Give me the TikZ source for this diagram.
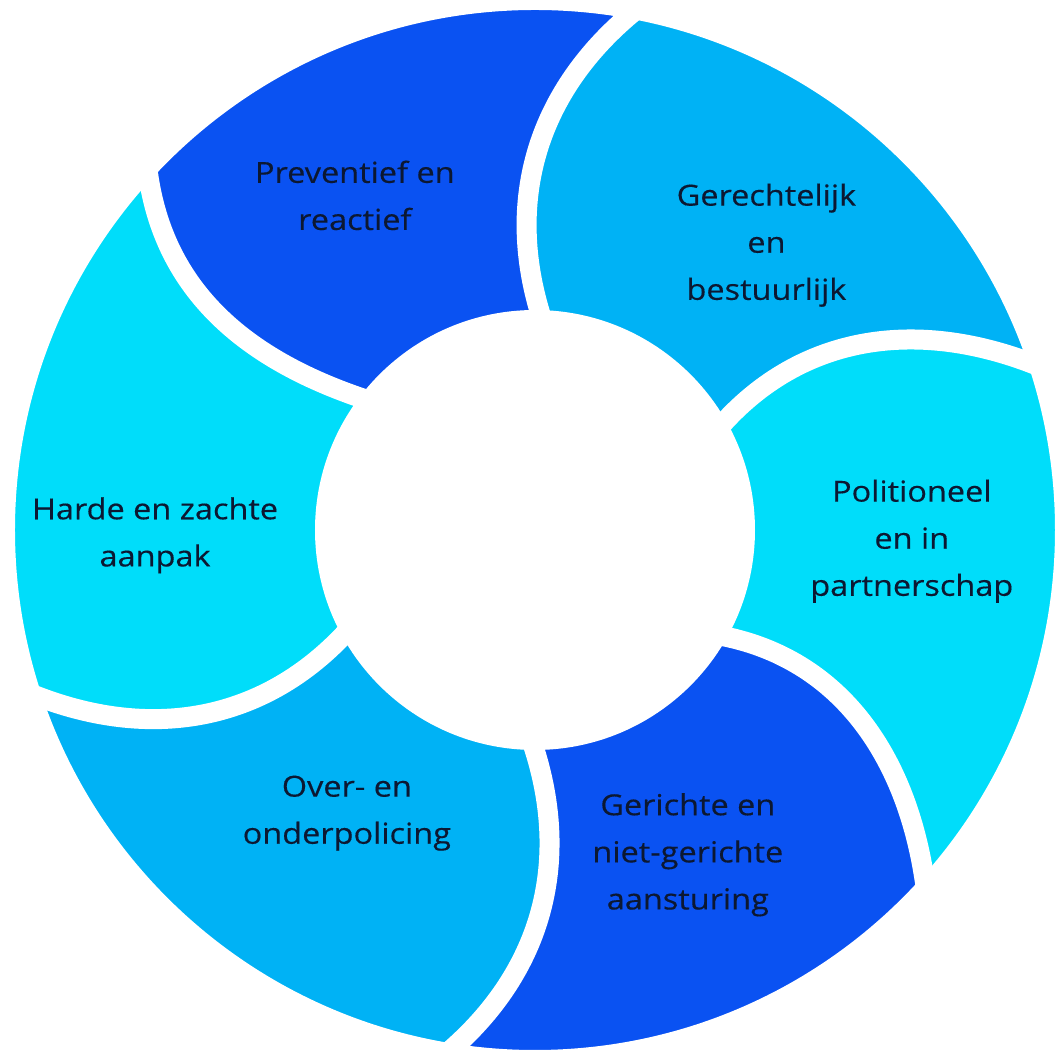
\documentclass[tikz,border=0pt]{standalone}
\usepackage{fontspec}
\setmainfont[FakeStretch=1.12,FakeBold=0.35]{Open Sans}
\definecolor{ringdark}{RGB}{10,82,242}
\definecolor{ringmid}{RGB}{0,178,245}
\definecolor{ringcyan}{RGB}{0,221,250}
\definecolor{labeltext}{RGB}{12,24,50}
\begin{document}
\begin{tikzpicture}[
    gap/.style={draw=white, line width=0.2cm},
    lbl/.style={align=center, text=labeltext, font=\fontsize{8.25}{13.4}\selectfont}
  ]
      \useasboundingbox (-5.35,-5.24) rectangle (5.21,5.30);
      % ends of the six borders, inside and outside
      \coordinate (i1) at (88:2.1);   \coordinate (o1) at (79:5.3);
      \coordinate (i2) at (29:2.1);   \coordinate (o2) at (18:5.3);
      \coordinate (i3) at (-30:2.1);  \coordinate (o3) at (-42.5:5.3);
      \coordinate (i4) at (-91:2.1);  \coordinate (o4) at (-99.5:5.3);
      \coordinate (i5) at (-152:2.1); \coordinate (o5) at (-162:5.3);
      \coordinate (i6) at (142:2.1);  \coordinate (o6) at (137:5.3);
      % segments
      \fill[ringdark] (i6) to[out=162,in=277] (o6)
        arc[start angle=137,end angle=79,radius=5.3] to[out=219,in=108] (i1)
        arc[start angle=88,end angle=142,radius=2.1] -- cycle;
      \fill[ringmid] (i1) to[out=108,in=219] (o1)
        arc[start angle=79,end angle=18,radius=5.3] to[out=158,in=49] (i2)
        arc[start angle=29,end angle=88,radius=2.1] -- cycle;
      \fill[ringcyan] (i2) to[out=49,in=158] (o2)
        arc[start angle=18,end angle=-42.5,radius=5.3] to[out=97.5,in=-10] (i3)
        arc[start angle=-30,end angle=29,radius=2.1] -- cycle;
      \fill[ringdark] (i3) to[out=-10,in=97.5] (o3)
        arc[start angle=-42.5,end angle=-99.5,radius=5.3] to[out=40.5,in=-71] (i4)
        arc[start angle=-91,end angle=-30,radius=2.1] -- cycle;
      \fill[ringmid] (i4) to[out=-71,in=40.5] (o4)
        arc[start angle=-99.5,end angle=-162,radius=5.3] to[out=-22,in=-132] (i5)
        arc[start angle=-152,end angle=-91,radius=2.1] -- cycle;
      \fill[ringcyan] (i5) to[out=-132,in=-22] (o5)
        arc[start angle=-162,end angle=-223,radius=5.3] to[out=277,in=162] (i6)
        arc[start angle=-218,end angle=-152,radius=2.1] -- cycle;
      % white gaps
      \draw[gap] (i1) to[out=108,in=219] (o1);
      \draw[gap] (i2) to[out=49,in=158] (o2);
      \draw[gap] (i3) to[out=-10,in=97.5] (o3);
      \draw[gap] (i4) to[out=-71,in=40.5] (o4);
      \draw[gap] (i5) to[out=-132,in=-22] (o5);
      \draw[gap] (i6) to[out=162,in=277] (o6);
      \draw[gap] (0,0) circle (5.3);
      \fill[white] (0,0) circle (2.2);
      % labels
      \path
        (118.3:3.80) node[lbl] (prev){Preventief en\\reactief}
        (50.9:3.67) node[lbl] (gerecht){Gerechtelijk\\en\\bestuurlijk}
        (-1.7:3.77) node[lbl] (polit){Politioneel\\en in\\partnerschap}
        (-64.8:3.59) node[lbl] (gericht){Gerichte en\\niet-gerichte\\aansturing}
        (236.4:3.40) node[lbl] (over){Over- en\\onderpolicing}
        (180.8:3.80) node[lbl] (harde){Harde en zachte\\aanpak};
    \end{tikzpicture}
\end{document}
